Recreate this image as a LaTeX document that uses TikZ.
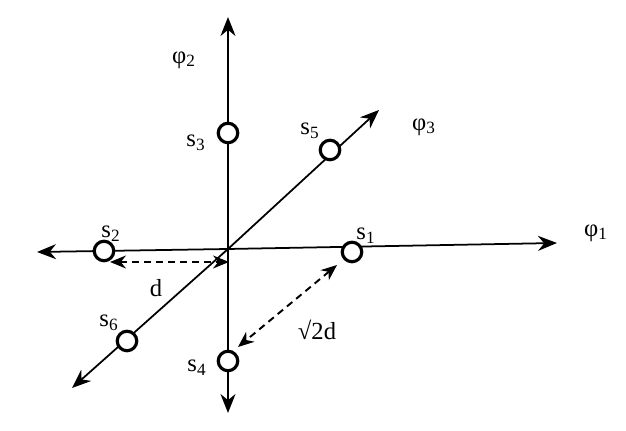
\documentclass[tikz,border=0pt]{standalone}
\usepackage{fontspec}
\setmainfont{Liberation Serif}
\usepackage{tikz}
\usetikzlibrary{positioning,arrows.meta,calc}

\tikzset{
    axis/.style={line width=1pt, -{Stealth[length=3.8mm,width=3mm]}},
    dist/.style={line width=1.1pt, dash pattern=on 1.4mm off 1mm,
        {Stealth[length=3.2mm,width=2.6mm]}-{Stealth[length=3.2mm,width=2.6mm]}},
    sig/.style={circle, draw, fill=white, line width=1.8pt, minimum size=3.9mm, inner sep=0pt},
    lbl/.style={font=\fontsize{14}{16}\selectfont, inner sep=1pt}
}

\begin{document}
\begin{tikzpicture}[x=0.02cm, y=-0.02cm]
    \useasboundingbox (0,0) rectangle (626,431);

    % axes
    \coordinate (O) at (228,249);
    \coordinate (e1) at (557,243);
    \coordinate (e1n) at (37,252);
    \coordinate (e2) at (228,17);
    \coordinate (e2n) at (228,413);
    \coordinate (e3) at (379,110);
    \coordinate (e3n) at (72,388);
    \draw[axis] (O) -- (e1);
    \draw[axis] (O) -- (e1n);
    \draw[axis] (O) -- (e2);
    \draw[axis] (O) -- (e2n);
    \draw[axis] (O) -- (e3);
    \draw[axis] (O) -- (e3n);

    \node[lbl] (phi1) at (596,233) {φ\textsubscript{1}};
    \node[lbl] (phi2) at (184,60) {φ\textsubscript{2}};
    \node[lbl] (phi3) at (424,127) {φ\textsubscript{3}};

    % signal points
    \node[sig] (s1) at (352,252) {};
    \node[sig] (s2) at (104,251) {};
    \node[sig] (s3) at (228,133) {};
    \node[sig] (s4) at (228,361) {};
    \node[sig] (s5) at (330,150) {};
    \node[sig] (s6) at (127,341) {};

    \node[lbl] (l1) at (366,236) {s\textsubscript{1}};
    \node[lbl] (l2) at (111,234) {s\textsubscript{2}};
    \node[lbl] (l3) at (196,143) {s\textsubscript{3}};
    \node[lbl] (l4) at (197,368) {s\textsubscript{4}};
    \node[lbl] (l5) at (310,131) {s\textsubscript{5}};
    \node[lbl] (l6) at (109,323) {s\textsubscript{6}};

    % distances
    \coordinate (da) at (110,262);
    \coordinate (db) at (229,262);
    \draw[dist] (da) -- (db);
    \node[lbl] (d) at (156,288) {d};

    \coordinate (ra) at (337,265);
    \coordinate (rb) at (238,347);
    \draw[dist] (ra) -- (rb);
    \node[lbl] (r) at (317,330) {√2d};
\end{tikzpicture}
\end{document}
